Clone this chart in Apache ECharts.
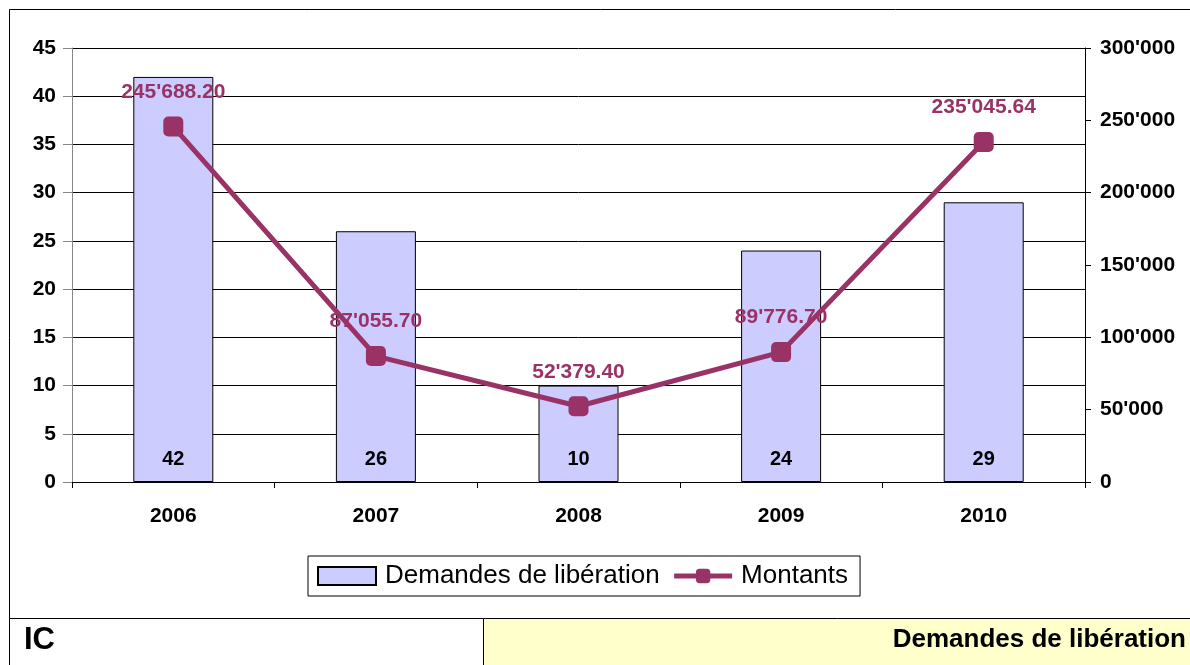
<!DOCTYPE html>
<html>
<head>
<meta charset="utf-8">
<script src="https://cdn.jsdelivr.net/npm/echarts@6/dist/echarts.min.js"></script>
<style>
html, body { margin: 0; padding: 0; background: #fff; }
#chart { width: 1190px; height: 665px; }
</style>
</head>
<body>
<div id="chart"></div>
<script>
var years = ['2006', '2007', '2008', '2009', '2010'];
var demandes = [42, 26, 10, 24, 29];
var montants = [245688.20, 87055.70, 52379.40, 89776.70, 235045.64];

var fontFam = '"Liberation Sans", Arial, sans-serif';
var lineColor = '#993366';

// 245688.2 -> 245'688.20
function swissFmt(v, dec) {
	var s = v.toFixed(dec);
	var parts = s.split('.');
	var ent = parts[0].replace(/\B(?=(\d{3})+(?!\d))/g, "'");
	return parts.length > 1 ? ent + '.' + parts[1] : ent;
}

var chart = echarts.init(document.getElementById('chart'));
var option = {
	animation: false,
	backgroundColor: '#fff',
	textStyle: { fontFamily: fontFam },
	grid: { left: 72, right: 105, top: 48, bottom: 183 },
	legend: {
		left: 308,
		top: 556,
		padding: [7, 12, 7, 9],
		borderColor: '#000',
		borderWidth: 1,
		itemGap: 12,
		itemWidth: 58,
		itemHeight: 18,
		textStyle: { fontSize: 26, color: '#000', fontFamily: fontFam, padding: [0, 0, 0, 4] },
		data: [
			{ name: 'Demandes de libération', icon: 'rect' },
			{ name: 'Montants', lineStyle: { width: 5, color: lineColor } }
		]
	},
	xAxis: {
		type: 'category',
		data: years,
		axisLine: { lineStyle: { color: '#000' } },
		axisTick: { show: true, length: 6, lineStyle: { color: '#000' } },
		axisLabel: { fontSize: 21, fontWeight: 'bold', color: '#000', margin: 24 }
	},
	yAxis: [{
		type: 'value',
		min: 0, max: 45, interval: 5,
		axisLine: { show: true, lineStyle: { color: '#888' } },
		axisTick: { show: true, length: 9, lineStyle: { color: '#888' } },
		axisLabel: { fontSize: 21, fontWeight: 'bold', color: '#000', margin: 16 },
		splitLine: { lineStyle: { color: '#000', width: 1 } }
	}, {
		type: 'value',
		min: 0, max: 300000, interval: 50000,
		axisLine: { show: true, lineStyle: { color: '#000' } },
		axisTick: { show: true, length: 6, lineStyle: { color: '#000' } },
		axisLabel: {
			fontSize: 21, fontWeight: 'bold', color: '#000', margin: 15,
			formatter: function(v) { return swissFmt(v, 0); }
		},
		splitLine: { show: false }
	}],
	series: [{
		name: 'Demandes de libération',
		type: 'bar',
		yAxisIndex: 0,
		data: demandes,
		barWidth: 80,
		itemStyle: { color: '#CCCCFF', borderColor: '#000', borderWidth: 1 },
		label: {
			show: true,
			position: 'insideBottom',
			distance: 13,
			fontSize: 20,
			fontWeight: 'bold',
			color: '#000'
		},
		z: 2
	}, {
		name: 'Montants',
		type: 'line',
		yAxisIndex: 1,
		data: montants,
		symbol: 'roundRect',
		symbolSize: 20,
		lineStyle: { color: lineColor, width: 5 },
		itemStyle: { color: lineColor },
		label: {
			show: true,
			position: 'top',
			distance: 14,
			fontSize: 21,
			fontWeight: 'bold',
			color: lineColor,
			formatter: function(p) { return swissFmt(p.value, 2); }
		},
		z: 5
	}],
	graphic: [
		{
			type: 'rect', silent: true, z: -1,
			shape: { x: 9.5, y: 9.5, width: 1200, height: 700 },
			style: { fill: null, stroke: '#000', lineWidth: 1 }
		},
		{
			type: 'rect', silent: true,
			shape: { x: 9.5, y: 618.5, width: 474, height: 50 },
			style: { fill: '#fff', stroke: '#000', lineWidth: 1 }
		},
		{
			type: 'rect', silent: true,
			shape: { x: 483.5, y: 618.5, width: 720, height: 50 },
			style: { fill: '#FFFFCC', stroke: '#000', lineWidth: 1 }
		},
		{
			type: 'text', silent: true, left: 24, top: 625,
			style: { text: 'IC', font: 'bold 31px ' + fontFam, fill: '#000' }
		},
		{
			type: 'text', silent: true, right: 4, top: 627,
			style: { text: 'Demandes de libération', font: 'bold 26px ' + fontFam, fill: '#000' }
		}
	]
};
chart.setOption(option);
</script>
</body>
</html>
